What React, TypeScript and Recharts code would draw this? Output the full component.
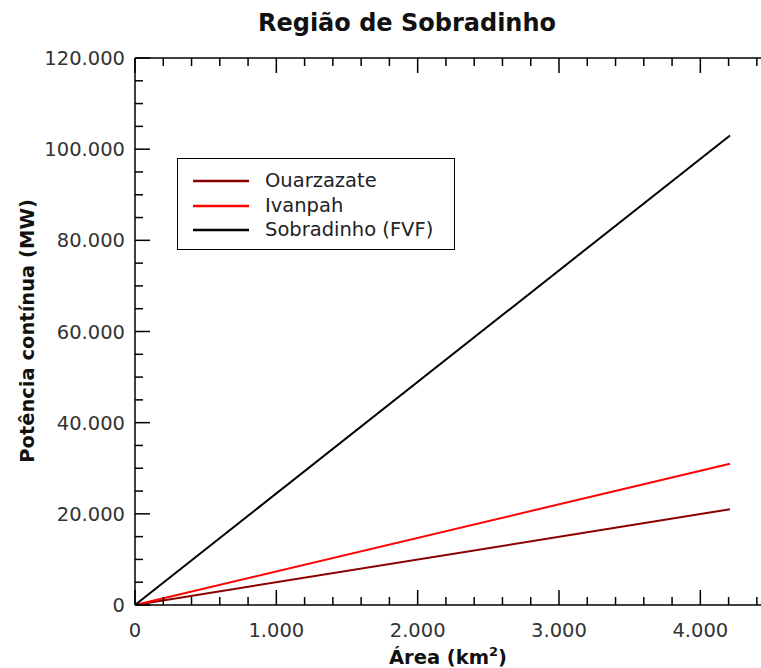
import { LineChart, Line, XAxis, YAxis } from 'recharts';

// área em km2 e potência contínua em MW
const areas = [0, 4210];
const ouarzazate = [0, 21000];
const ivanpah = [0, 31000];
const sobradinho = [0, 103000];

const xTicks = [0, 200, 400, 600, 800, 1000, 1200, 1400, 1600, 1800, 2000, 2200, 2400, 2600, 2800, 3000, 3200, 3400, 3600, 3800, 4000, 4200, 4400];
const yTicks = [0, 5000, 10000, 15000, 20000, 25000, 30000, 35000, 40000, 45000, 50000, 55000, 60000, 65000, 70000, 75000, 80000, 85000, 90000, 95000, 100000, 105000, 110000, 115000, 120000];

const series = [
    { key: 'ouarzazate', name: 'Ouarzazate', color: '#8b0000' },
    { key: 'ivanpah', name: 'Ivanpah', color: '#ff0000' },
    { key: 'sobradinho', name: 'Sobradinho (FVF)', color: '#000000' },
];

const data = areas.map((a, i) => ({
    area: a,
    ouarzazate: ouarzazate[i],
    ivanpah: ivanpah[i],
    sobradinho: sobradinho[i],
}));

const FONT = '"DejaVu Sans", sans-serif';
const MAJOR = 15;
const MINOR = 8;
const fmt = (v: number) => String(v).replace(/\B(?=(\d{3})+(?!\d))/g, '.');

const BottomTick = (props: any) => {
    const { x, y, payload } = props;
    const major = payload.value % 1000 === 0;
    const axisY = y - 18;
    return (
        <g>
            <line x1={x} x2={x} y1={axisY} y2={axisY - (major ? MAJOR : MINOR)} stroke="#000" strokeWidth={1.5} />
            {major && (
                <text x={x} y={y} dy="0.71em" textAnchor="middle" fontSize={19.5} fontFamily={FONT} fill="#333">
                    {fmt(payload.value)}
                </text>
            )}
        </g>
    );
};

const TopTick = (props: any) => {
    const { x, y, payload } = props;
    const major = payload.value % 1000 === 0;
    return <line x1={x} x2={x} y1={y} y2={y + (major ? MAJOR : MINOR)} stroke="#000" strokeWidth={1.5} />;
};

const LeftTick = (props: any) => {
    const { x, y, payload } = props;
    const major = payload.value % 20000 === 0;
    const axisX = x + 10;
    return (
        <g>
            <line x1={axisX} x2={axisX + (major ? MAJOR : MINOR)} y1={y} y2={y} stroke="#000" strokeWidth={1.5} />
            {major && (
                <text x={x} y={y} dy="0.36em" textAnchor="end" fontSize={19.5} fontFamily={FONT} fill="#333">
                    {fmt(payload.value)}
                </text>
            )}
        </g>
    );
};

const RightTick = (props: any) => {
    const { x, y, payload } = props;
    const major = payload.value % 20000 === 0;
    return <line x1={x} x2={x - (major ? MAJOR : MINOR)} y1={y} y2={y} stroke="#000" strokeWidth={1.5} />;
};

const LegendBox = () => (
    <div
        style={{
            position: 'absolute',
            left: 177,
            top: 158,
            width: 278,
            height: 92,
            border: '1.5px solid #000',
            background: '#fff',
            fontFamily: FONT,
            fontSize: 19.5,
            color: '#222',
            paddingTop: 10,
            boxSizing: 'border-box',
        }}
    >
        {series.map((s) => (
            <div key={s.key} style={{ display: 'flex', alignItems: 'center', height: 24.5 }}>
                <svg width={56} height={6} style={{ marginLeft: 15, marginRight: 16 }}>
                    <line x1={0} x2={56} y1={3} y2={3} stroke={s.color} strokeWidth={2.5} />
                </svg>
                <span style={{ lineHeight: '24px' }}>{s.name}</span>
            </div>
        ))}
    </div>
);

export default function App() {
    return (
        <div style={{ position: 'absolute', left: 0, top: 0, width: 761, height: 668, overflow: 'hidden', background: '#fff' }}>
            <div
                style={{
                    position: 'absolute', left: 0, width: 814, top: 8, textAlign: 'center',
                    fontFamily: FONT, fontWeight: 'bold', fontSize: 24, lineHeight: '30px', color: '#111',
                }}
            >
                Região de Sobradinho
            </div>
            <div
                style={{
                    position: 'absolute', left: 27, top: 331, transform: 'translate(-50%, -50%) rotate(-90deg)',
                    whiteSpace: 'nowrap', fontFamily: FONT, fontWeight: 'bold', fontSize: 19.5, color: '#111',
                }}
            >
                Potência contínua (MW)
            </div>
            <div
                style={{
                    position: 'absolute', left: 448, top: 657, transform: 'translate(-50%, -50%)',
                    whiteSpace: 'nowrap', fontFamily: FONT, fontWeight: 'bold', fontSize: 19.5, color: '#111',
                }}
            >
                Área (km<sup style={{ fontSize: 13, verticalAlign: 'super', lineHeight: 0 }}>2</sup>)
            </div>
            <LineChart width={780} height={668} data={data} margin={{ top: 50, right: 0, bottom: 0, left: 0 }}>
                <XAxis
                    dataKey="area"
                    type="number"
                    domain={[0, 4500]}
                    ticks={xTicks}
                    height={63}
                    tickSize={0}
                    tickMargin={18}
                    tickLine={false}
                    tick={<BottomTick />}
                    interval={0}
                    axisLine={{ stroke: '#000', strokeWidth: 1.5 }}
                />
                <XAxis
                    xAxisId="top"
                    orientation="top"
                    dataKey="area"
                    type="number"
                    domain={[0, 4500]}
                    ticks={xTicks}
                    height={8}
                    tickSize={0}
                    tickMargin={0}
                    tickLine={false}
                    tick={<TopTick />}
                    interval={0}
                    axisLine={{ stroke: '#000', strokeWidth: 1.5 }}
                />
                <YAxis
                    type="number"
                    domain={[0, 120000]}
                    ticks={yTicks}
                    width={135}
                    tickSize={0}
                    tickMargin={10}
                    tickLine={false}
                    tick={<LeftTick />}
                    interval={0}
                    axisLine={{ stroke: '#000', strokeWidth: 1.5 }}
                />
                <YAxis
                    yAxisId="right"
                    orientation="right"
                    type="number"
                    domain={[0, 120000]}
                    ticks={yTicks}
                    width={9}
                    tickSize={0}
                    tickMargin={0}
                    tickLine={false}
                    tick={<RightTick />}
                    interval={0}
                    axisLine={{ stroke: '#000', strokeWidth: 1.5 }}
                />
                {series.map((s) => (
                    <Line
                        key={s.key}
                        type="linear"
                        dataKey={s.key}
                        name={s.name}
                        stroke={s.color}
                        strokeWidth={2}
                        dot={false}
                        isAnimationActive={false}
                    />
                ))}
            </LineChart>
            <LegendBox />
        </div>
    );
}
